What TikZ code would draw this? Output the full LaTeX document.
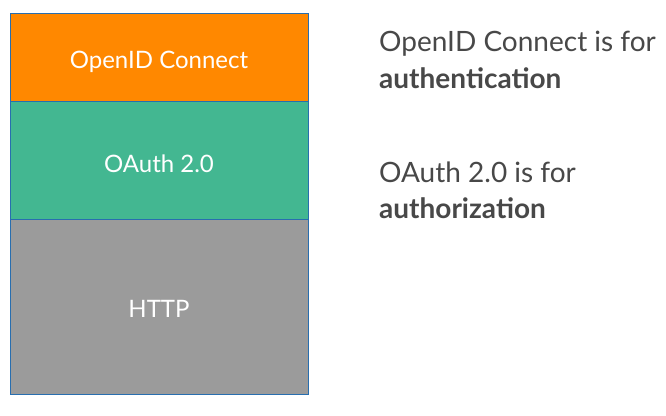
\documentclass[tikz,border=0pt]{standalone}
\usepackage{fontspec}
\setmainfont{Lato}
\definecolor{oidc}{RGB}{255,136,0}
\definecolor{oauth}{RGB}{67,183,145}
\definecolor{httpgray}{RGB}{155,155,155}
\definecolor{edge}{RGB}{40,110,175}
\definecolor{txt}{RGB}{72,72,72}
\begin{document}
\begin{tikzpicture}[x=1pt,y=-1pt,
  layer/.style={draw=edge,line width=1pt,minimum width=298pt,inner sep=0pt,text=white,
    text depth=0pt,font=\fontsize{24}{29}\selectfont},
  side/.style={anchor=base west,inner sep=0pt,text=txt,font=\fontsize{28}{34}\selectfont}]
\useasboundingbox (0,0) rectangle (666,415);
\fill[white] (0,0) rectangle (666,415);
\node[layer,fill=oidc,minimum height=88pt,text height=23pt] (oidc) at (159,57) {OpenID Connect};
\node[layer,fill=oauth,minimum height=118pt,text height=25pt] (oauth) at (159,160) {OAuth 2.0};
\node[layer,fill=httpgray,minimum height=175pt,text height=21pt] (http) at (159,306.5) {HTTP};
\node[side] (l1) at (379,51) {OpenID Connect is for};
\node[side,font=\fontsize{28}{34}\selectfont\bfseries] (l2) at (379,88) {authentication};
\node[side] (l3) at (379,182) {OAuth 2.0 is for};
\node[side,font=\fontsize{28}{34}\selectfont\bfseries] (l4) at (379,218) {authorization};
\end{tikzpicture}
\end{document}
